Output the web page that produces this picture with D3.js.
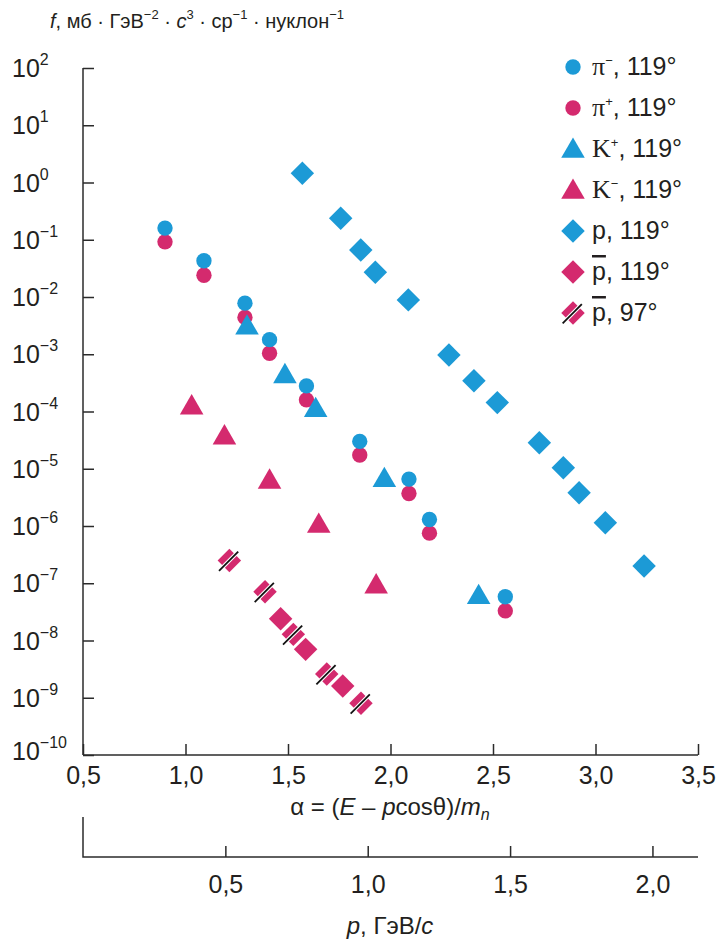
<!DOCTYPE html>
<html><head><meta charset="utf-8">
<script src="https://cdn.jsdelivr.net/npm/d3@7"></script>
<style>
html,body{margin:0;padding:0;background:#fff;}
svg text{fill:#231f20;}
</style></head>
<body>
<svg id="chart" width="718" height="941"></svg>
<script>
// ---------- data ----------
const piMinusAlpha = [0.90, 1.09, 1.29, 1.41, 1.59, 1.85, 2.09, 2.19, 2.56];
const piMinusF     = [1.6e-1, 4.3e-2, 7.8e-3, 1.8e-3, 2.8e-4, 3.0e-5, 6.6e-6, 1.3e-6, 5.8e-8];
const piPlusAlpha  = [0.90, 1.09, 1.29, 1.41, 1.59, 1.85, 2.09, 2.19, 2.56];
const piPlusF      = [9.2e-2, 2.4e-2, 4.4e-3, 1.04e-3, 1.6e-4, 1.74e-5, 3.7e-6, 7.5e-7, 3.3e-8];
const kPlusAlpha   = [1.30, 1.485, 1.635, 1.97, 2.43];
const kPlusF       = [2.9e-3, 4.1e-4, 1.05e-4, 6.3e-6, 5.7e-8];
const kMinusAlpha  = [1.03, 1.19, 1.41, 1.65, 1.93];
const kMinusF      = [1.17e-4, 3.5e-5, 5.9e-6, 1.0e-6, 8.7e-8];
const protonAlpha  = [1.57, 1.757, 1.855, 1.926, 2.087, 2.285, 2.407, 2.521, 2.726, 2.843, 2.92, 3.048, 3.237];
const protonF      = [1.45, 2.37e-1, 6.6e-2, 2.7e-2, 8.9e-3, 9.7e-4, 3.45e-4, 1.43e-4, 2.85e-5, 1.04e-5, 3.8e-6, 1.14e-6, 2.0e-7];
const pbar119Alpha = [1.464, 1.586, 1.767];
const pbar119F     = [2.4e-8, 7.0e-9, 1.6e-9];
const pbar97Alpha  = [1.214, 1.388, 1.526, 1.689, 1.856];
const pbar97F      = [2.5e-7, 7.1e-8, 1.28e-8, 2.6e-9, 8.0e-10];

const yTickExponents = [2,1,0,-1,-2,-3,-4,-5,-6,-7,-8,-9,-10];
const alphaTicks = [0.5,1.0,1.5,2.0,2.5,3.0,3.5];
const alphaTickLabels = ["0,5","1,0","1,5","2,0","2,5","3,0","3,5"];
const pTicks = [0.5,1.0,1.5,2.0];
const pTickLabels = ["0,5","1,0","1,5","2,0"];
const legendAngles = ["119°","119°","119°","119°","119°","119°","97°"];

// ---------- layout ----------
const BLUE = "#1c9ad6", PINK = "#d42a6e", AXIS = "#2b2b2b";
const svg = d3.select("#chart");
const x0 = 83, x1 = 698, yTop = 68, yBot = 755, pAxisY = 857;
const x = d3.scaleLinear().domain([0.5, 3.5]).range([x0, x1]);
const y = d3.scaleLog().domain([1e-10, 1e2]).range([yBot, yTop]);
const xp = d3.scaleLinear().domain([0, 2.16]).range([x0, x1]);

const sansFont = "'Liberation Sans',Arial,Helvetica,sans-serif";
const serifFont = "'Liberation Serif','Times New Roman',serif";

// title
const title = svg.append("text").attr("x", 50).attr("y", 28)
  .style("font-family", sansFont).style("font-size", "20px");
title.append("tspan").style("font-style","italic").text("f");
title.append("tspan").text(", мб · ГэВ");
title.append("tspan").attr("dy", -9).style("font-size","13px").text("−2");
title.append("tspan").attr("dy", 9).text(" · ");
title.append("tspan").style("font-style","italic").text("c");
title.append("tspan").attr("dy", -9).style("font-size","13px").text("3");
title.append("tspan").attr("dy", 9).text(" · ср");
title.append("tspan").attr("dy", -9).style("font-size","13px").text("−1");
title.append("tspan").attr("dy", 9).text(" · нуклон");
title.append("tspan").attr("dy", -9).style("font-size","13px").text("−1");

// y axis
const yAxis = svg.append("g").attr("transform", `translate(${x0},0)`)
  .call(d3.axisLeft(y).tickValues(yTickExponents.map(e => Math.pow(10, e))).tickSize(-11).tickFormat(""));
yAxis.select(".domain").attr("d", `M0,${yTop}V${yBot}`);
yAxis.selectAll("line, path").attr("stroke", AXIS).attr("stroke-width", 1.5);
yTickExponents.forEach(e => {
  const t = svg.append("text").attr("x", 12).attr("y", y(Math.pow(10, e)) + 9 - (e === -10 ? 4 : 0))
    .style("font-family", sansFont).style("font-size", "25px");
  t.append("tspan").text("10");
  t.append("tspan").attr("dy", -12).style("font-size", "16px").text(e < 0 ? "−" + (-e) : String(e));
});

// alpha axis
const xAxis = svg.append("g").attr("transform", `translate(0,${yBot})`)
  .call(d3.axisBottom(x).tickValues(alphaTicks).tickSize(-11).tickPadding(11)
    .tickFormat((d, i) => alphaTickLabels[i]));
xAxis.select(".domain").attr("d", `M${x0},0H${x1}`);
xAxis.selectAll("line, path").attr("stroke", AXIS).attr("stroke-width", 1.5);
xAxis.selectAll("text").style("font-family", sansFont).style("font-size", "25px").attr("fill", "#231f20");

const at = svg.append("text").attr("x", 390).attr("y", 815).attr("text-anchor", "middle")
  .style("font-family", sansFont).style("font-size", "24px");
at.append("tspan").text("α = (");
at.append("tspan").style("font-style","italic").text("E");
at.append("tspan").text(" – ");
at.append("tspan").style("font-style","italic").text("p");
at.append("tspan").text("cosθ)/");
at.append("tspan").style("font-style","italic").text("m");
at.append("tspan").attr("dy", 5).style("font-style","italic").style("font-size","16px").text("n");

// p axis
const pAxis = svg.append("g").attr("transform", `translate(0,${pAxisY})`)
  .call(d3.axisBottom(xp).tickValues(pTicks).tickSize(-11).tickPadding(18)
    .tickFormat((d, i) => pTickLabels[i]));
pAxis.select(".domain").attr("d", `M${x0},-40V0H${x1}`);
pAxis.selectAll("line, path").attr("stroke", AXIS).attr("stroke-width", 1.5).attr("fill", "none");
pAxis.selectAll("text").style("font-family", sansFont).style("font-size", "25px").attr("fill", "#231f20");

const pt = svg.append("text").attr("x", 390).attr("y", 934).attr("text-anchor", "middle")
  .style("font-family", sansFont).style("font-size", "24px");
pt.append("tspan").style("font-style","italic").text("p");
pt.append("tspan").text(", ГэВ/");
pt.append("tspan").style("font-style","italic").text("c");

// ---------- markers ----------
const circleSym = d3.symbol().type(d3.symbolCircle).size(185)();
const triSym = d3.symbol().type(d3.symbolTriangle).size(240)();
const diaSym = d3.symbol().type(d3.symbolSquare).size(275)();

function drawMarker(g, kind, color, cx, cy) {
  if (kind === "circle") {
    g.append("path").attr("d", circleSym).attr("transform", `translate(${cx},${cy})`).attr("fill", color);
  } else if (kind === "triangle") {
    g.append("path").attr("d", triSym).attr("transform", `translate(${cx},${cy})`).attr("fill", color);
  } else if (kind === "diamond") {
    g.append("path").attr("d", diaSym).attr("transform", `translate(${cx},${cy}) rotate(45)`).attr("fill", color);
  } else if (kind === "slashed") {
    g.append("path").attr("d", diaSym).attr("transform", `translate(${cx},${cy}) rotate(45)`).attr("fill", color);
    const d = 12.5 / Math.SQRT2;
    g.append("line").attr("x1", cx - d).attr("y1", cy + d).attr("x2", cx + d).attr("y2", cy - d)
      .attr("stroke", "#fff").attr("stroke-width", 4);
    g.append("line").attr("x1", cx - d - 1.5).attr("y1", cy + d + 1.5).attr("x2", cx + d).attr("y2", cy - d)
      .attr("stroke", "#111").attr("stroke-width", 1.8);
  }
}

const series = [
  {alpha: piPlusAlpha, f: piPlusF, kind: "circle", color: PINK},
  {alpha: piMinusAlpha, f: piMinusF, kind: "circle", color: BLUE},
  {alpha: kPlusAlpha, f: kPlusF, kind: "triangle", color: BLUE},
  {alpha: kMinusAlpha, f: kMinusF, kind: "triangle", color: PINK},
  {alpha: protonAlpha, f: protonF, kind: "diamond", color: BLUE},
  {alpha: pbar119Alpha, f: pbar119F, kind: "diamond", color: PINK},
  {alpha: pbar97Alpha, f: pbar97F, kind: "slashed", color: PINK}
];
const marks = svg.append("g");
series.forEach(s => s.alpha.forEach((a, i) => drawMarker(marks, s.kind, s.color, x(a), y(s.f[i]))));

// ---------- legend ----------
const legendItems = [
  {kind: "circle", color: BLUE, sym: "π", sup: "−", serif: true},
  {kind: "circle", color: PINK, sym: "π", sup: "+", serif: true},
  {kind: "triangle", color: BLUE, sym: "K", sup: "+", serif: true},
  {kind: "triangle", color: PINK, sym: "K", sup: "−", serif: true},
  {kind: "diamond", color: BLUE, sym: "p", sup: null, serif: false},
  {kind: "diamond", color: PINK, sym: "p", sup: null, serif: false, bar: true},
  {kind: "slashed", color: PINK, sym: "p", sup: null, serif: false, bar: true}
];
const lg = svg.append("g");
legendItems.forEach((it, i) => {
  const cy = 67 + i * 41;
  drawMarker(lg, it.kind, it.color, 573, cy + (it.kind === "triangle" ? 2 : 0));
  const t = lg.append("text").attr("x", 592).attr("y", cy + 8)
    .style("font-family", sansFont).style("font-size", "25px");
  const s = t.append("tspan").text(it.sym);
  if (it.serif) s.style("font-family", serifFont).style("font-size", "26px");
  if (it.bar) s.style("text-decoration", "overline");
  if (it.sup) {
    t.append("tspan").attr("dy", -10).style("font-size", "13px").text(it.sup);
    t.append("tspan").attr("dy", 10).text(", " + legendAngles[i]);
  } else {
    t.append("tspan").text(", " + legendAngles[i]);
  }
});
</script>
</body></html>
